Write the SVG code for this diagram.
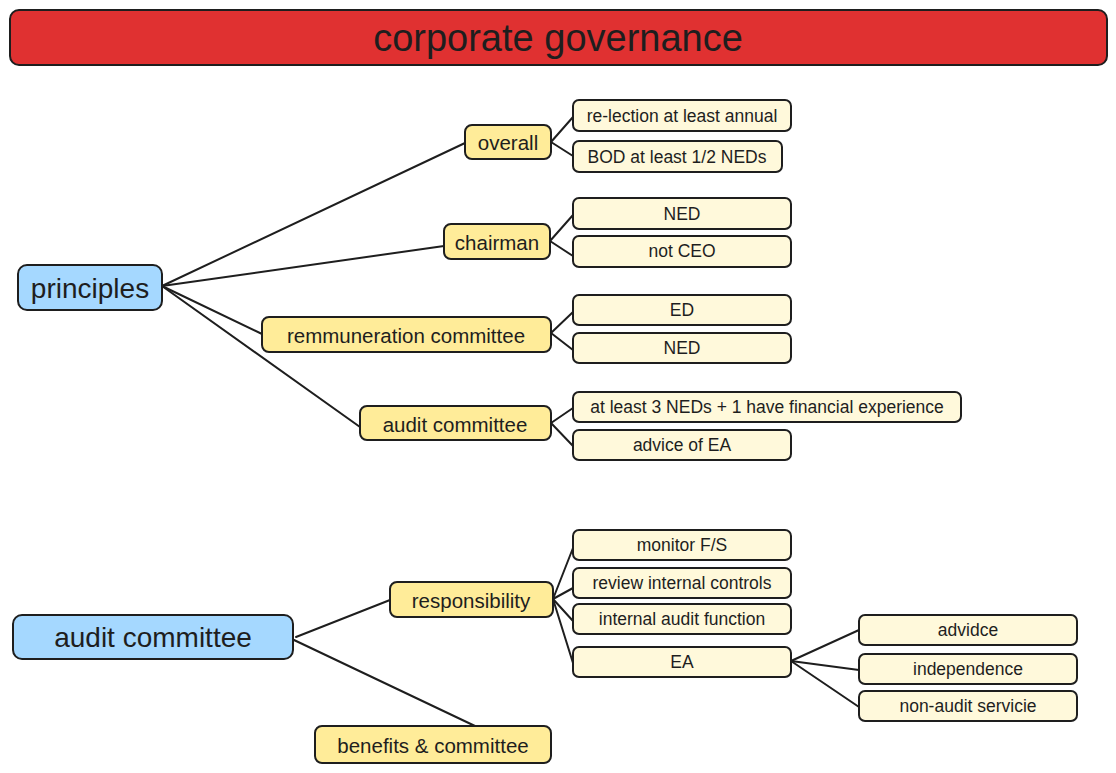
<svg xmlns="http://www.w3.org/2000/svg" width="1116" height="773" viewBox="0 0 1116 773">
<style>
.box{stroke:#1e1e1e;stroke-width:2}
.title{fill:#e03131}
.root{fill:#a5d8ff}
.mid{fill:#ffec99}
.leaf{fill:#fff9db}
text{font-family:"Liberation Sans",Arial,sans-serif;fill:#1e1e1e;text-anchor:middle;dominant-baseline:central}
.t0{font-size:38px}
.t1{font-size:28px}
.t2{font-size:20.5px}
.t3{font-size:17.5px}
.conn path{fill:none;stroke:#1e1e1e;stroke-width:2;stroke-linecap:round}
</style>
<rect width="1116" height="773" fill="#ffffff"/>
<g class="conn" id="connectors">
<path d="M162 286 L465 143"/>
<path d="M162 286 L444 246"/>
<path d="M162 286 L262 334"/>
<path d="M162 286 L360 427"/>
<path d="M551 142 L573 117"/>
<path d="M551 142 L573 156"/>
<path d="M550 241 L573 215"/>
<path d="M550 241 L573 256"/>
<path d="M551 333 L573 312"/>
<path d="M551 333 L573 350"/>
<path d="M551 423 L573 408"/>
<path d="M551 423 L573 446"/>
<path d="M296 637 L390 600"/>
<path d="M294 640 L475 726"/>
<path d="M553 599 L573 548"/>
<path d="M553 599 L573 588"/>
<path d="M553 599 L573 621"/>
<path d="M553 599 L573 663"/>
<path d="M791 661 L859 630"/>
<path d="M791 661 L859 670"/>
<path d="M791 661 L859 707"/>
</g>
<g id="title"><rect class="box title" x="10" y="10" width="1097" height="55" rx="9"/><text class="t0" x="558" y="38">corporate governance</text></g>
<g id="principles"><rect class="box root" x="18" y="265" width="144" height="45" rx="9"/><text class="t1" x="90" y="288">principles</text></g>
<g id="overall"><rect class="box mid" x="465" y="125" width="86" height="34" rx="7"/><text class="t2" x="508" y="142">overall</text></g>
<g id="chairman"><rect class="box mid" x="444" y="224" width="106" height="35" rx="7"/><text class="t2" x="497" y="242">chairman</text></g>
<g id="remmuneration"><rect class="box mid" x="262" y="317" width="289" height="35" rx="7"/><text class="t2" x="406" y="335">remmuneration committee</text></g>
<g id="audit-committee-p"><rect class="box mid" x="360" y="406" width="191" height="34" rx="7"/><text class="t2" x="455" y="424">audit committee</text></g>
<g id="relection"><rect class="box leaf" x="573" y="100" width="218" height="31" rx="6"/><text class="t3" x="682" y="116">re-lection at least annual</text></g>
<g id="bod"><rect class="box leaf" x="573" y="141" width="209" height="31" rx="6"/><text class="t3" x="677" y="157">BOD at least 1/2 NEDs</text></g>
<g id="ned1"><rect class="box leaf" x="573" y="198" width="218" height="31" rx="6"/><text class="t3" x="682" y="214">NED</text></g>
<g id="notceo"><rect class="box leaf" x="573" y="236" width="218" height="31" rx="6"/><text class="t3" x="682" y="251">not CEO</text></g>
<g id="ed"><rect class="box leaf" x="573" y="295" width="218" height="30" rx="6"/><text class="t3" x="682" y="310">ED</text></g>
<g id="ned2"><rect class="box leaf" x="573" y="333" width="218" height="30" rx="6"/><text class="t3" x="682" y="348">NED</text></g>
<g id="atleast3"><rect class="box leaf" x="573" y="392" width="388" height="30" rx="6"/><text class="t3" x="767" y="407">at least 3 NEDs + 1 have financial experience</text></g>
<g id="adviceea"><rect class="box leaf" x="573" y="430" width="218" height="30" rx="6"/><text class="t3" x="682" y="445">advice of EA</text></g>
<g id="audit-committee"><rect class="box root" x="13" y="615" width="280" height="44" rx="9"/><text class="t1" x="153" y="637">audit committee</text></g>
<g id="responsibility"><rect class="box mid" x="390" y="582" width="163" height="35" rx="7"/><text class="t2" x="471" y="600">responsibility</text></g>
<g id="benefits"><rect class="box mid" x="315" y="726" width="236" height="37" rx="7"/><text class="t2" x="433" y="745">benefits &amp; committee</text></g>
<g id="monitor"><rect class="box leaf" x="573" y="530" width="218" height="30" rx="6"/><text class="t3" x="682" y="545">monitor F/S</text></g>
<g id="review"><rect class="box leaf" x="573" y="568" width="218" height="30" rx="6"/><text class="t3" x="682" y="583">review internal controls</text></g>
<g id="iaf"><rect class="box leaf" x="573" y="604" width="218" height="30" rx="6"/><text class="t3" x="682" y="619">internal audit function</text></g>
<g id="ea"><rect class="box leaf" x="573" y="647" width="218" height="30" rx="6"/><text class="t3" x="682" y="662">EA</text></g>
<g id="advidce"><rect class="box leaf" x="859" y="615" width="218" height="30" rx="6"/><text class="t3" x="968" y="630">advidce</text></g>
<g id="independence"><rect class="box leaf" x="859" y="654" width="218" height="30" rx="6"/><text class="t3" x="968" y="669">independence</text></g>
<g id="nonaudit"><rect class="box leaf" x="859" y="691" width="218" height="30" rx="6"/><text class="t3" x="968" y="706">non-audit servicie</text></g>
</svg>
